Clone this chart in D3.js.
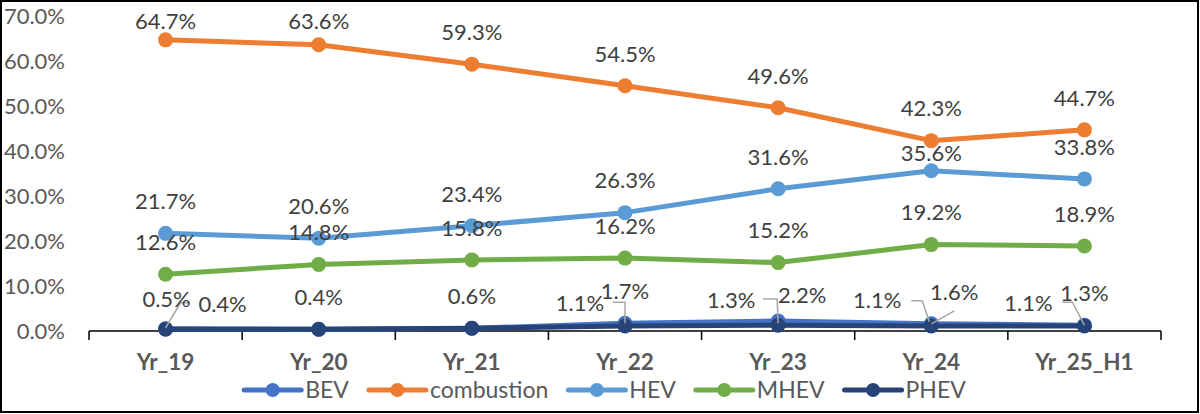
<!DOCTYPE html>
<html><head><meta charset="utf-8">
<script src="https://cdn.jsdelivr.net/npm/d3@7"></script>
<style>body{margin:0;background:#fff} svg{display:block}</style>
</head><body>
<svg id="chart" width="1200" height="414"></svg>
<script>
// ---- data ----
const categories = ["Yr_19","Yr_20","Yr_21","Yr_22","Yr_23","Yr_24","Yr_25_H1"];
const seriesNames = ["BEV","combustion","HEV","MHEV","PHEV"];
const bev        = [0.5, 0.4, 0.6, 1.7, 2.2, 1.6, 1.3];
const combustion = [64.7, 63.6, 59.3, 54.5, 49.6, 42.3, 44.7];
const hev        = [21.7, 20.6, 23.4, 26.3, 31.6, 35.6, 33.8];
const mhev       = [12.6, 14.8, 15.8, 16.2, 15.2, 19.2, 18.9];
const phev       = [0.4, 0.4, 0.6, 1.1, 1.3, 1.1, 1.1];
const yTicks     = [0, 10, 20, 30, 40, 50, 60, 70];

// ---- styles / layout ----
const colors = {BEV:"#4472C4", combustion:"#ED7D31", HEV:"#5B9BD5", MHEV:"#70AD47", PHEV:"#264478"};
const font = "Lato, 'Open Sans', sans-serif";
const labelNudges = [
  {s:"combustion", i:0, dx:0, dy:-19},
  {s:"combustion", i:1, dx:0, dy:-24},
  {s:"HEV", i:5, dx:0, dy:-18},
  {s:"BEV", i:0, dx:1, dy:-30},
  {s:"BEV", i:4, dx:24, dy:-26},
  {s:"BEV", i:5, dx:23, dy:-32},
  {s:"PHEV", i:0, dx:57, dy:-25},
  {s:"PHEV", i:3, dx:-45, dy:-23},
  {s:"PHEV", i:4, dx:-47, dy:-25},
  {s:"PHEV", i:5, dx:-54, dy:-26},
  {s:"PHEV", i:6, dx:-56, dy:-23}
];
const leaders = [
  {s:"BEV", i:0, pts:[[0,-1],[15,-26],[24,-26]]},
  {s:"BEV", i:3, pts:[[0,0],[0,-21],[-12,-21]]},
  {s:"BEV", i:4, pts:[[0,2],[-1,-22],[-15,-22]]},
  {s:"BEV", i:5, pts:[[-2,-2],[-9,-23],[-20,-23]]},
  {s:"BEV", i:5, pts:[[0,0],[23,-13]]},
  {s:"BEV", i:6, pts:[[0,0],[-12,-23],[-22,-23]]}
];

const valuesBy = {BEV:bev, combustion:combustion, HEV:hev, MHEV:mhev, PHEV:phev};
const series = seriesNames.map(n => ({name:n, values:valuesBy[n]}));

const svg = d3.select("#chart");
const W = 1200, H = 414;
const plot = {left:89, right:1161, top:16, bottom:331};

const x = d3.scalePoint().domain(categories).range([plot.left, plot.right]).padding(0.5);
const y = d3.scaleLinear().domain([0, 70]).range([plot.bottom, plot.top]);

// frame
svg.append("rect").attr("x",1).attr("y",1).attr("width",W-3).attr("height",H-3)
  .attr("fill","#fff").attr("stroke","#000").attr("stroke-width",2);

// y axis labels
const yAxis = d3.axisLeft(y).tickValues(yTicks).tickFormat(d => d.toFixed(1) + "%").tickSize(0).tickPadding(0);
const gy = svg.append("g").attr("transform", "translate(65,0)").call(yAxis);
gy.select(".domain").remove();
gy.selectAll("text").attr("font-family", font).attr("font-size", 22).attr("fill", "#595959").attr("dy","0.36em");

// x axis
const step = x.step();
const gx = svg.append("g").attr("transform", `translate(0,${plot.bottom})`);
gx.append("line").attr("x1", plot.left).attr("x2", plot.right).attr("stroke","#000").attr("stroke-width",1.5);
d3.range(categories.length + 1).forEach(k => {
  const tx = plot.left + k * step;
  gx.append("line").attr("x1", tx).attr("x2", tx).attr("y1", 0).attr("y2", 9).attr("stroke","#000").attr("stroke-width",1.5);
});
gx.selectAll("text.cat").data(categories).join("text").attr("class","cat")
  .attr("x", d => x(d)).attr("y", 39).attr("text-anchor","middle")
  .attr("font-family", font).attr("font-weight","bold").attr("font-size",22.5).attr("fill","#595959")
  .text(d => d);

// lines & markers
const line = d3.line().x((d,i) => x(categories[i])).y(d => y(d));
series.forEach(s => {
  const g = svg.append("g");
  g.append("path").attr("d", line(s.values)).attr("fill","none")
    .attr("stroke", colors[s.name]).attr("stroke-width", 5).attr("stroke-linejoin","round");
  g.selectAll("circle").data(s.values).join("circle")
    .attr("cx", (d,i) => x(categories[i])).attr("cy", d => y(d)).attr("r", 7.5)
    .attr("fill", colors[s.name]);
});

// leader lines
leaders.forEach(l => {
  const px = x(categories[l.i]), py = y(valuesBy[l.s][l.i]);
  svg.append("polyline").attr("points", l.pts.map(p => [px+p[0], py+p[1]].join(",")).join(" "))
    .attr("fill","none").attr("stroke","#A6A6A6").attr("stroke-width",1.5);
});

// data labels (identical labels at the same spot are drawn once)
const placed = new Set();
series.forEach(s => {
  s.values.forEach((v,i) => {
    const n = labelNudges.find(o => o.s === s.name && o.i === i);
    const dx = n ? n.dx : 0, dy = n ? n.dy : -32;
    const lx = x(categories[i]) + dx, ly = y(v) + dy + 7.8;
    const txt = v.toFixed(1) + "%";
    const key = txt + "@" + Math.round(lx) + "," + Math.round(ly);
    if (placed.has(key)) return;
    placed.add(key);
    svg.append("text").attr("x", lx).attr("y", ly)
      .attr("text-anchor","middle").attr("font-family", font).attr("font-size", 22)
      .attr("fill","#404040").text(txt);
  });
});

// legend
const lg = svg.append("g");
const items = seriesNames.map(n => {
  const t = lg.append("text").attr("font-family", font).attr("font-size", 23).attr("fill","#595959")
    .attr("y", 390 + 8.2).text(n);
  return {n, t, w: t.node().getComputedTextLength()};
});
const mW = 57, gapT = 4, gapI = 20;
const total = d3.sum(items, d => mW + gapT + d.w) + gapI * (items.length - 1);
let cx = 605 - total / 2;
items.forEach(it => {
  lg.append("line").attr("x1", cx).attr("x2", cx + mW).attr("y1", 390).attr("y2", 390)
    .attr("stroke", colors[it.n]).attr("stroke-width", 5).attr("stroke-linecap","round");
  lg.append("circle").attr("cx", cx + mW/2).attr("cy", 390).attr("r", 7).attr("fill", colors[it.n]);
  it.t.attr("x", cx + mW + gapT);
  cx += mW + gapT + it.w + gapI;
});
</script>
</body></html>
